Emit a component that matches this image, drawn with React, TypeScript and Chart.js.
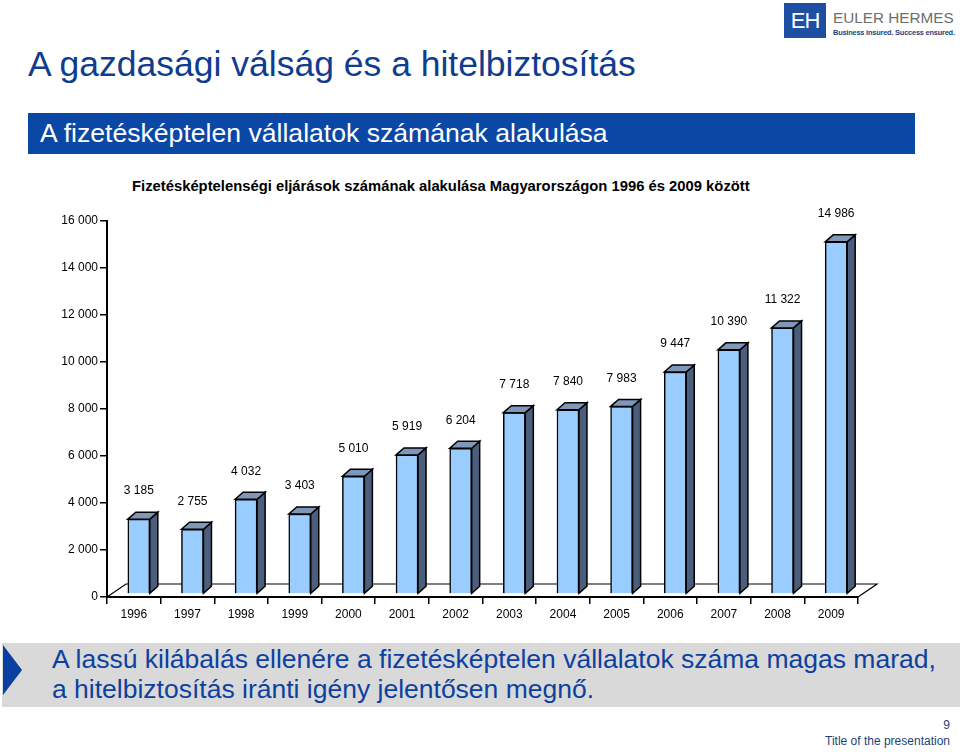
import React, { useEffect, useRef } from "react";
import { Chart, registerables } from "chart.js";

Chart.register(...registerables);

const years = ["1996","1997","1998","1999","2000","2001","2002","2003","2004","2005","2006","2007","2008","2009"];
const cases = [3185, 2755, 4032, 3403, 5010, 5919, 6204, 7718, 7840, 7983, 9447, 10390, 11322, 14986];
const yTicks = [0, 2000, 4000, 6000, 8000, 10000, 12000, 14000, 16000];

const FONT = "Arial, 'Liberation Sans', sans-serif";
const fmt = (v: number) => String(v).replace(/\B(?=(\d{3})+(?!\d))/g, " ");

const DX = 8, DY = 7, SHIFT_X = 5, SHIFT_Y = -3;

const bar3d = {
  id: "bar3d",
  beforeDatasetsDraw(chart: any) {
    const { ctx, chartArea } = chart;
    const { left, right, bottom } = chartArea;
    ctx.save();
    ctx.strokeStyle = "#000";
    ctx.lineWidth = 1.2;
    ctx.beginPath();
    ctx.moveTo(left, bottom);
    ctx.lineTo(left + 19, bottom - 13);
    ctx.lineTo(right + 19, bottom - 13);
    ctx.lineTo(right, bottom);
    ctx.stroke();
    ctx.restore();
    ctx.save();
    ctx.translate(SHIFT_X, SHIFT_Y);
  },
  afterDatasetsDraw(chart: any) {
    const { ctx } = chart;
    const meta = chart.getDatasetMeta(0);
    ctx.lineWidth = 1.5;
    ctx.strokeStyle = "#000";
    ctx.lineJoin = "miter";
    meta.data.forEach((el: any, i: number) => {
      const w = el.width;
      const l = el.x - w / 2, r = el.x + w / 2, t = el.y, b = el.base;
      ctx.beginPath();
      ctx.moveTo(r, t);
      ctx.lineTo(r + DX, t - DY);
      ctx.lineTo(r + DX, b - DY);
      ctx.lineTo(r, b);
      ctx.closePath();
      ctx.fillStyle = "#4B5E7C";
      ctx.fill();
      ctx.stroke();
      ctx.beginPath();
      ctx.moveTo(l, t);
      ctx.lineTo(l + DX, t - DY);
      ctx.lineTo(r + DX, t - DY);
      ctx.lineTo(r, t);
      ctx.closePath();
      ctx.fillStyle = "#7F97B8";
      ctx.fill();
      ctx.stroke();
      ctx.fillStyle = "#000";
      ctx.font = `12px ${FONT}`;
      ctx.textAlign = "center";
      ctx.textBaseline = "middle";
      ctx.fillText(fmt(cases[i]), el.x, t - 28);
    });
    ctx.restore();
  },
};

function BarChart() {
  const ref = useRef<HTMLCanvasElement>(null);
  useEffect(() => {
    if (!ref.current) return;
    const chart = new Chart(ref.current, {
      type: "bar",
      data: {
        labels: years,
        datasets: [
          {
            data: cases,
            backgroundColor: "#99CCFF",
            borderColor: "#000",
            borderWidth: 1.5,
            barThickness: 22,
          },
        ],
      },
      options: {
        animation: false,
        responsive: false,
        devicePixelRatio: 1,
        layout: { padding: { left: 0, right: 102, top: 61, bottom: 0 } },
        plugins: { legend: { display: false }, tooltip: { enabled: false }, title: { display: false } },
        scales: {
          x: {
            afterFit: (s: any) => { s.height = 43; },
            grid: { offset: true, drawOnChartArea: false, drawTicks: true, tickLength: 7, color: "#000", lineWidth: 1.5 },
            border: { color: "#000", width: 2 },
            ticks: { color: "#000", font: { size: 12, family: FONT }, padding: 3, maxRotation: 0 },
          },
          y: {
            min: 0,
            max: 16000,
            afterFit: (s: any) => { s.width = 107; },
            afterBuildTicks: (s: any) => { s.ticks = yTicks.map((v) => ({ value: v })); },
            grid: { drawOnChartArea: false, drawTicks: true, tickLength: 7, color: "#000", lineWidth: 1.5 },
            border: { color: "#000", width: 2 },
            ticks: { color: "#000", font: { size: 12, family: FONT }, padding: 2, callback: (v: any) => fmt(Number(v)) },
          },
        },
      },
      plugins: [bar3d],
    });
    return () => chart.destroy();
  }, []);
  return <canvas ref={ref} width={960} height={480} style={{ position: "absolute", left: 0, top: 160, width: 960, height: 480 }} />;
}

export default function App() {
  return (
    <div style={{ position: "fixed", left: 0, top: 0, width: 960, height: 752, background: "#fff", fontFamily: FONT, overflow: "hidden" }}>
      <div style={{ position: "absolute", left: 784, top: 3, width: 42, height: 35, background: "#1E4FA3", color: "#fff", fontSize: 22, lineHeight: "35px", textAlign: "center", fontWeight: 300, letterSpacing: -1 }}>EH</div>
      <div style={{ position: "absolute", left: 833, top: 9, fontSize: 15.3, color: "#6E6E6E", lineHeight: "18px", whiteSpace: "nowrap" }}>EULER HERMES</div>
      <div style={{ position: "absolute", left: 833, top: 28, fontSize: 7.4, color: "#1E3F7A", fontWeight: "bold", lineHeight: "10px", whiteSpace: "nowrap", letterSpacing: -0.2 }}>Business insured. Success ensured.</div>

      <div style={{ position: "absolute", left: 28, top: 42, fontSize: 35.5, color: "#0F3C8F", lineHeight: "44px", whiteSpace: "nowrap" }}>A gazdasági válság és a hitelbiztosítás</div>

      <div style={{ position: "absolute", left: 28, top: 113, width: 887, height: 41, background: "#0B47A5" }} />
      <div style={{ position: "absolute", left: 40, top: 113, height: 41, lineHeight: "41px", fontSize: 26.6, color: "#fff", whiteSpace: "nowrap" }}>A fizetésképtelen vállalatok számának alakulása</div>

      <div style={{ position: "absolute", left: 132, top: 178, fontSize: 14.8, fontWeight: "bold", color: "#000", whiteSpace: "nowrap", lineHeight: "17px" }}>Fizetésképtelenségi eljárások számának alakulása Magyarországon 1996 és 2009 között</div>

      <BarChart />

      <div style={{ position: "absolute", left: 2, top: 643, width: 958, height: 64, background: "#D9D9D9" }} />
      <svg style={{ position: "absolute", left: 0, top: 643 }} width={30} height={64}>
        <polygon points="3,2 3,52 22,27" fill="#0B3FA0" />
      </svg>
      <div style={{ position: "absolute", left: 52, top: 644, fontSize: 26.5, color: "#0C41A0", lineHeight: "30px", whiteSpace: "nowrap" }}>
        A lassú kilábalás ellenére a fizetésképtelen vállalatok száma magas marad,<br />a hitelbiztosítás iránti igény jelentősen megnő.
      </div>

      <div style={{ position: "absolute", right: 10, top: 717, fontSize: 12, color: "#1E3F7A", textAlign: "right", lineHeight: "16px" }}>
        9<br />Title of the presentation
      </div>
    </div>
  );
}
